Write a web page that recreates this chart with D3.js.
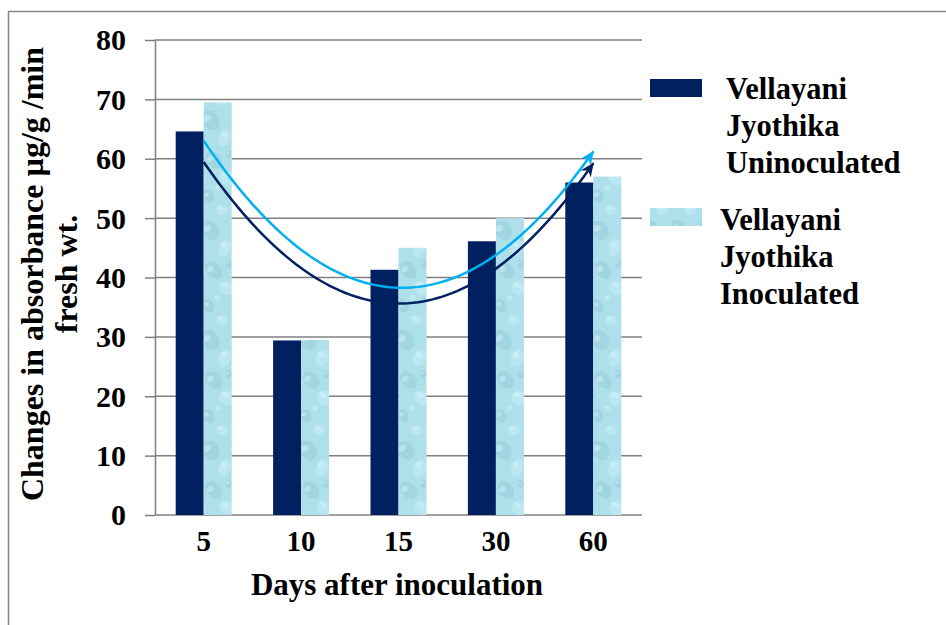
<!DOCTYPE html>
<html lang="en">
<head>
<meta charset="utf-8">
<title>Days after inoculation bar chart</title>
<script src="https://cdn.jsdelivr.net/npm/d3@7"></script>
<style>
  body { margin: 0; background: #fff; }
  text { font-family: "Liberation Serif", "Times New Roman", serif; font-weight: bold; fill: #000; }
</style>
</head>
<body>
<div id="chart"></div>
<script>
// data
var days = ["5", "10", "15", "30", "60"];
var seriesNames = ["Vellayani Jyothika Uninoculated", "Vellayani Jyothika Inoculated"];
var uninoculated = [64.6, 29.4, 41.3, 46.1, 56.0];
var inoculated = [69.5, 29.5, 45.0, 50.0, 57.0];
var yTicks = [0, 10, 20, 30, 40, 50, 60, 70, 80];

var W = 946, H = 625;
var plotL = 155, plotR = 642, plotT = 40, plotB = 515;

var svg = d3.select("#chart").append("svg")
  .attr("width", W).attr("height", H);

var defs = svg.append("defs");

// water drop texture for the inoculated bars
var pat = defs.append("pattern")
  .attr("id", "drops")
  .attr("patternUnits", "userSpaceOnUse")
  .attr("width", 28).attr("height", 110);
pat.append("rect").attr("width", 28).attr("height", 110).attr("fill", "#ade0ea");
var drops = [[7, 10, 8, 11, -30], [21, 28, 6, 9, 20], [10, 50, 7, 10, -40], [23, 68, 8, 7, 30],
             [5, 86, 5, 7, -20], [18, 100, 6, 5, 10], [25, 44, 3, 4, 0], [14, 78, 3, 3, 0]];
drops.forEach(function(d, i) {
  var g = pat.append("g").attr("transform", "translate(" + d[0] + "," + d[1] + ") rotate(" + d[4] + ")");
  g.append("ellipse")
    .attr("rx", d[2]).attr("ry", d[3])
    .attr("fill", i % 2 ? "#c4edf5" : "#95cbd8")
    .attr("opacity", 0.55);
  g.append("ellipse")
    .attr("cx", -d[2] * 0.3).attr("cy", -d[3] * 0.3).attr("rx", d[2] * 0.5).attr("ry", d[3] * 0.3)
    .attr("fill", "#d8f5fa").attr("opacity", 0.45);
});

// arrow heads for the trend lines
[["arrNavy", "#002060"], ["arrBlue", "#00b0f0"]].forEach(function(a) {
  defs.append("marker")
    .attr("id", a[0])
    .attr("markerUnits", "userSpaceOnUse")
    .attr("viewBox", "0 0 14 12")
    .attr("markerWidth", 14).attr("markerHeight", 12)
    .attr("refX", 13).attr("refY", 6)
    .attr("orient", "auto")
    .append("path").attr("d", "M0,0 L14,6 L0,12 L4,6 Z").attr("fill", a[1]);
});

// chart border
svg.append("rect")
  .attr("x", 8.5).attr("y", 11.5).attr("width", 1000).attr("height", 700)
  .attr("fill", "none").attr("stroke", "#868686").attr("stroke-width", 1.5);

var x = d3.scaleBand().domain(days).range([plotL, plotR])
  .paddingInner(0.425).paddingOuter(0.2125);
var xs = d3.scaleBand().domain([0, 1]).range([0, x.bandwidth()]);
var y = d3.scaleLinear().domain([0, 80]).range([plotB, plotT]);

// grid lines
svg.append("g").selectAll("line")
  .data(yTicks)
  .enter().append("line")
  .attr("x1", plotL).attr("x2", plotR)
  .attr("y1", function(d) { return y(d); })
  .attr("y2", function(d) { return y(d); })
  .attr("stroke", "#808080").attr("stroke-width", 1.5);

// y axis
var yAxis = svg.append("g")
  .attr("transform", "translate(" + plotL + ",0)")
  .call(d3.axisLeft(y).tickValues(yTicks).tickSize(10).tickPadding(19).tickSizeOuter(0));
yAxis.select(".domain").attr("stroke", "#808080").attr("stroke-width", 1.5);
yAxis.selectAll(".tick line").attr("stroke", "#808080").attr("stroke-width", 1.5);
yAxis.selectAll("text").style("font-size", "30px").attr("fill", "#000").attr("dy", "0.33em");

// x axis labels
var xAxis = svg.append("g")
  .attr("transform", "translate(0," + plotB + ")")
  .call(d3.axisBottom(x).tickSize(0));
xAxis.select(".domain").remove();
xAxis.selectAll("text").style("font-size", "29px").attr("fill", "#000").attr("y", 36).attr("dy", 0);

// bars
var rows = days.map(function(d, i) { return { day: d, vals: [uninoculated[i], inoculated[i]] }; });
var groups = svg.append("g").selectAll("g")
  .data(rows)
  .enter().append("g")
  .attr("transform", function(d) { return "translate(" + x(d.day) + ",0)"; });
groups.selectAll("rect")
  .data(function(d) { return d.vals; })
  .enter().append("rect")
  .attr("x", function(d, i) { return xs(i); })
  .attr("y", function(d) { return y(d); })
  .attr("width", xs.bandwidth())
  .attr("height", function(d) { return plotB - y(d); })
  .attr("fill", function(d, i) { return i === 0 ? "#002060" : "url(#drops)"; });

// 2nd order polynomial trend lines (least squares on category index 1..5)
function polyFit(vals) {
  var n = vals.length, tm = (n + 1) / 2;
  var ts = vals.map(function(v, i) { return i + 1 - tm; });
  var q = ts.map(function(t) { return t * t; });
  var qm = d3.mean(q);
  var ym = d3.mean(vals);
  var b = d3.sum(ts, function(t, i) { return t * vals[i]; }) / d3.sum(ts, function(t) { return t * t; });
  var c = d3.sum(q, function(v, i) { return (v - qm) * vals[i]; }) / d3.sum(q, function(v) { return (v - qm) * (v - qm); });
  return function(k) { var t = k - tm; return ym + b * t + c * (t * t - qm); };
}
var xi = d3.scaleLinear().domain([1, days.length])
  .range([x(days[0]) + x.bandwidth() / 2, x(days[days.length - 1]) + x.bandwidth() / 2]);
var line = d3.line().x(function(d) { return xi(d[0]); }).y(function(d) { return y(d[1]); });
[[uninoculated, "#002060", "arrNavy"], [inoculated, "#00b0f0", "arrBlue"]].forEach(function(s) {
  var f = polyFit(s[0]);
  var pts = d3.range(1, days.length + 0.001, 0.05).map(function(k) { return [k, f(k)]; });
  svg.append("path")
    .attr("d", line(pts))
    .attr("fill", "none").attr("stroke", s[1]).attr("stroke-width", 2.5)
    .attr("marker-end", "url(#" + s[2] + ")");
});

// axis titles
svg.append("text")
  .attr("x", 397).attr("y", 595)
  .attr("text-anchor", "middle").style("font-size", "31px")
  .text("Days after inoculation");
var yt = svg.append("text")
  .attr("transform", "translate(0,274) rotate(-90)")
  .attr("text-anchor", "middle").style("font-size", "32px");
yt.append("tspan").attr("x", 0).attr("y", 43).text("Changes in absorbance µg/g /min");
yt.append("tspan").attr("x", 0).attr("y", 77).text("fresh wt.");

// legend
var legend = [
  { fill: "#002060", sy: 79, tx: 726, base: 99, lines: ["Vellayani", "Jyothika", "Uninoculated"] },
  { fill: "url(#drops)", sy: 208, tx: 720, base: 230, lines: ["Vellayani", "Jyothika", "Inoculated"] }
];
legend.forEach(function(l, i) {
  svg.append("rect").attr("x", 650).attr("y", l.sy).attr("width", 52).attr("height", 18).attr("fill", l.fill);
  var t = svg.append("text").style("font-size", "30.5px").attr("aria-label", seriesNames[i]);
  l.lines.forEach(function(s, j) {
    t.append("tspan").attr("x", l.tx).attr("y", l.base + j * 37).text(s);
  });
});
</script>
</body>
</html>
